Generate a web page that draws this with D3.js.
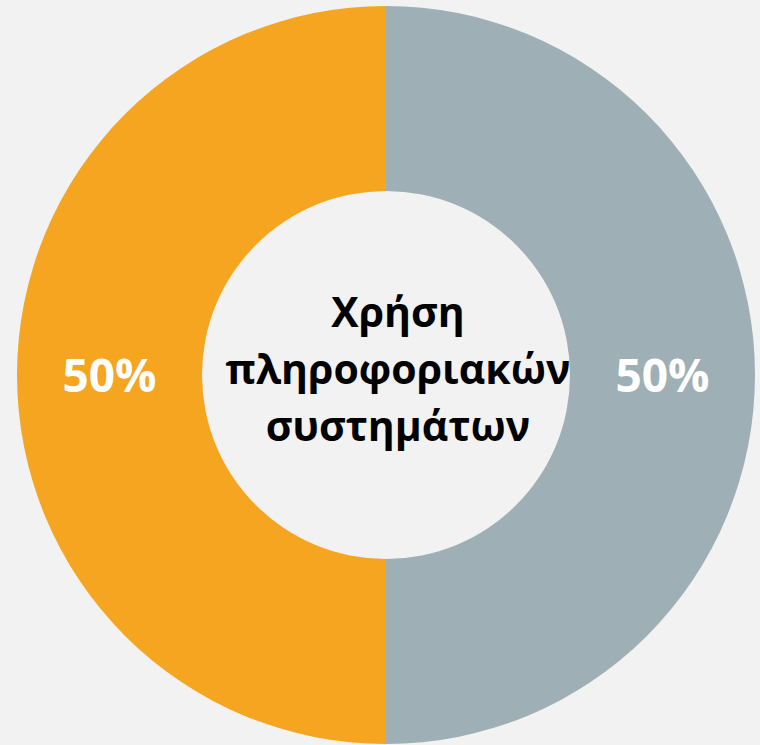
<!DOCTYPE html>
<html>
<head>
<meta charset="utf-8">
<script src="https://cdn.jsdelivr.net/npm/d3@7"></script>
<style>
  html, body { margin: 0; padding: 0; background: #f2f2f2; }
</style>
</head>
<body>
<div id="chart"></div>
<script>
// data
var categories = ["A", "B"];
var values = [50, 50];
var colors = ["#9eb0b5", "#f5a51f"];
var centerLines = ["Χρήση", "πληροφοριακών", "συστημάτων"];

var width = 760, height = 745;
var cx = 386, cy = 375;
var outerR = 369, innerR = 184;

var svg = d3.select("#chart").append("svg")
  .attr("width", width)
  .attr("height", height);

svg.append("rect")
  .attr("width", width).attr("height", height)
  .attr("fill", "#f2f2f2");

var g = svg.append("g").attr("transform", "translate(" + cx + "," + cy + ")");

var pie = d3.pie().sort(null).value(function(d){ return d; });
var arc = d3.arc().innerRadius(innerR).outerRadius(outerR);

var slices = g.selectAll(".slice")
  .data(pie(values))
  .enter().append("g")
  .attr("class", "slice");

slices.append("path")
  .attr("d", arc)
  .attr("fill", function(d, i){ return colors[i]; });

slices.append("text")
  .attr("transform", function(d){ var c = arc.centroid(d); return "translate(" + c[0] + "," + (c[1] + 17) + ")"; })
  .attr("text-anchor", "middle")
  .attr("font-family", "'Open Sans', sans-serif")
  .attr("font-weight", "bold")
  .attr("font-size", "46px")
  .attr("fill", "#ffffff")
  .text(function(d){ return d.data + "%"; });

// center title, slightly right of the ring centre like the original
g.append("text")
  .attr("text-anchor", "middle")
  .attr("font-family", "'Open Sans', sans-serif")
  .attr("font-weight", "bold")
  .attr("font-size", "41px")
  .attr("fill", "#000000")
  .selectAll("tspan")
  .data(centerLines)
  .enter().append("tspan")
  .attr("x", 12)
  .attr("y", function(d, i){ return -48 + i * 57; })
  .text(function(d){ return d; });
</script>
</body>
</html>
